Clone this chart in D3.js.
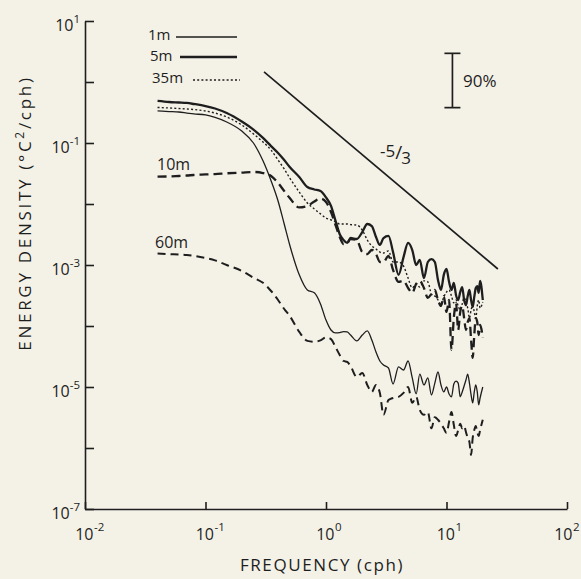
<!DOCTYPE html>
<html>
<head>
<meta charset="utf-8">
<script src="https://cdn.jsdelivr.net/npm/d3@7"></script>
<style>
  body { margin: 0; background: #f4f2e7; }
  svg { display: block; }
  text { font-family: 'Open Sans', 'DejaVu Sans', sans-serif; fill: #1e1e1e; }
</style>
</head>
<body>
<div id="chart"></div>
<script>
// frequency (cph) of each spectral estimate
const freqs = [
  0.04, 0.05, 0.06, 0.07, 0.08, 0.1, 0.12, 0.15,
  0.2, 0.25, 0.3, 0.35, 0.4, 0.45, 0.5,
  0.6, 0.7, 0.8, 0.9,
  1.0, 1.1, 1.2, 1.3, 1.4, 1.5, 1.6,
  1.8, 2.0, 2.2, 2.4, 2.6, 2.8, 3.0,
  3.3, 3.6,
  4.0, 4.4, 4.8, 5.2, 5.6, 6.0,
  6.5, 7, 7.5, 8, 8.5, 9, 9.5, 10, 10.5, 11, 11.5, 12, 12.5,
  13, 13.5, 14, 14.5, 15, 15.5, 16, 16.5, 17, 17.5, 18, 18.5, 19,
  20
]

// energy density (degC^2/cph) for each depth
const energy1m = [
  0.335, 0.328, 0.322, 0.31, 0.30, 0.288, 0.262, 0.221,
  0.157, 0.10, 0.051, 0.024, 0.0112, 4.7e-3, 2.13e-3,
  6.9e-4, 3.9e-4, 3.5e-4, 2.3e-4,
  1.25e-4, 8.6e-5, 7.7e-5, 7.8e-5, 8.1e-5, 8.0e-5, 7.1e-5,
  5.7e-5, 7.1e-5, 8.3e-5, 5.9e-5, 3.75e-5, 2.67e-5, 2.3e-5,
  2.05e-5, 1.12e-5,
  2.13e-5, 1.9e-5, 2.67e-5, 1.41e-5, 7.7e-6, 1.63e-5,
  1.08e-5, 1.41e-5, 7.4e-6, 1.16e-5, 1.76e-5, 1.08e-5, 8.3e-6, 1.0e-5, 7.7e-6, 6.9e-6, 1.12e-5, 1.25e-5, 1.16e-5,
  6.9e-6, 8.3e-6, 1.04e-5, 1.3e-5, 1.63e-5, 1.16e-5, 7.4e-6, 5.5e-6, 8.3e-6, 1.08e-5, 8.3e-6, 5.1e-6, 6.6e-6,
  1.0e-5
]

const energy5m = [
  0.489, 0.47, 0.461, 0.453, 0.436, 0.404, 0.368, 0.31,
  0.225, 0.166, 0.121, 0.089, 0.0686, 0.0526, 0.0404,
  0.0277, 0.019, 0.0173, 0.0163,
  0.0128, 9.3e-3, 5.3e-3, 3.2e-3, 2.57e-3, 2.3e-3, 2.77e-3,
  2.67e-3, 3.47e-3, 4.7e-3, 4.35e-3, 2.88e-3, 2.13e-3, 2.77e-3,
  3.0e-3, 1.63e-3,
  6.9e-4, 1.35e-3, 2.3e-3, 1.76e-3, 1.0e-3, 1.21e-3,
  6.1e-4, 1.12e-3, 1.25e-3, 1.12e-3, 5.7e-4, 3.9e-4, 6.9e-4, 8.6e-4, 5.3e-4, 3.9e-4, 5.1e-4, 3.2e-4, 2.67e-4,
  3.6e-4, 4.35e-4, 2.67e-4, 2.2e-4, 3.1e-4, 3.9e-4, 2.67e-4, 2.05e-4, 3.0e-4, 4.2e-4, 4.5e-4, 3.5e-4, 5.5e-4,
  2.67e-4
]

const energy35m = [
  0.382, 0.375, 0.368, 0.361, 0.354, 0.335, 0.31, 0.267,
  0.197, 0.141, 0.104, 0.0767, 0.0526, 0.0375, 0.0267,
  0.0157, 0.0104, 8.3e-3, 6.9e-3,
  5.9e-3, 5.5e-3, 5.1e-3, 4.7e-3, 4.7e-3, 4.7e-3, 4.6e-3,
  4.5e-3, 3.75e-3, 2.57e-3, 2.05e-3, 1.83e-3, 1.63e-3, 1.57e-3,
  1.7e-3, 1.12e-3,
  1.12e-3, 9.6e-4, 6.1e-4, 4.2e-4, 4.9e-4, 4.35e-4,
  5.5e-4, 5.3e-4, 3.35e-4, 3.1e-4, 2.67e-4, 2.2e-4, 3.0e-4, 3.6e-4, 3.9e-4, 3.1e-4, 2.4e-4, 2.67e-4, 2.13e-4,
  1.83e-4, 2.3e-4, 2.9e-4, 2.47e-4, 1.97e-4, 1.35e-4, 1.83e-4, 2.2e-4, 1.7e-4, 1.35e-4, 2.13e-4, 2.67e-4, 1.97e-4,
  2.47e-4
]

const energy10m = [
  0.0281, 0.0283, 0.0288, 0.0293, 0.0299, 0.0305, 0.031, 0.0319,
  0.0328, 0.0335, 0.0322, 0.0288, 0.0221, 0.0163, 0.0125,
  8.8e-3, 9.3e-3, 0.011, 0.0123,
  0.0108, 7.4e-3, 4.5e-3, 2.88e-3, 2.2e-3, 2.3e-3, 2.67e-3,
  2.57e-3, 1.63e-3, 1.51e-3, 1.76e-3, 1.51e-3, 1.12e-3, 1.12e-3,
  1.41e-3, 8.3e-4,
  5.3e-4, 5.5e-4, 4.2e-4, 3.5e-4, 4.9e-4, 5.5e-4,
  4.2e-4, 2.9e-4, 3.35e-4, 3.9e-4, 2.67e-4, 2.13e-4, 3.1e-4, 1.7e-4, 2.67e-4, 4.05e-5, 1.35e-4, 2.4e-4, 8.6e-5,
  1.7e-4, 2.13e-4, 1.35e-4, 8.6e-5, 1.16e-4, 1.35e-4, 5.9e-5, 3.0e-5, 7.1e-5, 1.35e-4, 1.16e-4, 7.1e-5, 1.04e-4,
  6.4e-5
]

const energy60m = [
  1.55e-3, 1.51e-3, 1.49e-3, 1.46e-3, 1.41e-3, 1.3e-3, 1.19e-3, 1.0e-3,
  8.0e-4, 6.2e-4, 5.1e-4, 3.75e-4, 2.67e-4, 1.9e-4, 1.46e-4,
  8.0e-5, 5.7e-5, 5.5e-5, 5.8e-5,
  6.5e-5, 6.1e-5, 4.5e-5, 3.35e-5, 2.67e-5, 2.57e-5, 2.2e-5,
  1.46e-5, 1.7e-5, 1.08e-5, 8.3e-6, 1.08e-5, 8.0e-6, 3.5e-6,
  6.1e-6, 6.6e-6,
  6.9e-6, 8.0e-6, 1.0e-5, 5.5e-6, 6.9e-6, 4.2e-6,
  3.5e-6, 3.9e-6, 2.1e-6, 3.2e-6, 2.9e-6, 2.5e-6, 2.1e-6, 1.76e-6, 2.67e-6, 3.9e-6, 2.4e-6, 1.57e-6, 1.97e-6,
  2.5e-6, 2.1e-6, 2.3e-6, 1.83e-6, 1.46e-6, 1.25e-6, 7.7e-7, 1.46e-6, 1.97e-6, 2.3e-6, 1.83e-6, 1.57e-6, 1.97e-6,
  2.9e-6
]

// -5/3 reference slope, and the 90% confidence bar
const slopeFreqs = [0.306, 26.7]
const slopeEnergy = [1.47, 8.6e-4]
const ciFreq = 11.2
const ciEnergy = [0.38, 2.95]

const xTickValues = [1e-2, 1e-1, 1, 1e1, 1e2]
const yTickValues = [1e1, 1, 1e-1, 1e-2, 1e-3, 1e-4, 1e-5, 1e-6, 1e-7]
const xLabelExps = [-2, -1, 0, 1, 2]
const yLabelExps = [1, -1, -3, -5, -7]

const ink = '#1e1e1e'
const width = 581
const height = 579
const margin = { top: 21, left: 85, right: 14, bottom: 70 }

const svg = d3
  .select('#chart')
  .append('svg')
  .attr('width', width)
  .attr('height', height)

const xPositionScale = d3
  .scaleLog()
  .domain([1e-2, 1e2])
  .range([margin.left, width - margin.right])
const yPositionScale = d3
  .scaleLog()
  .domain([1e-7, 1e1])
  .range([height - margin.bottom, margin.top])

const line = d3
  .line()
  .x(d => xPositionScale(d[0]))
  .y(d => yPositionScale(d[1]))
  .curve(d3.curveMonotoneX)

const series = [
  { key: '1m', values: energy1m, width: 1.3, dash: null },
  { key: '5m', values: energy5m, width: 2.3, dash: null },
  { key: '35m', values: energy35m, width: 1.4, dash: '2,2.2' },
  { key: '10m', values: energy10m, width: 2.3, dash: '9,5' },
  { key: '60m', values: energy60m, width: 2, dash: '8,5' }
]

// axes
const xAxis = d3
  .axisBottom(xPositionScale)
  .tickValues(xTickValues)
  .tickSizeInner(-7)
  .tickSizeOuter(0)
  .tickFormat('')
svg
  .append('g')
  .attr('class', 'axis x-axis')
  .attr('transform', 'translate(0,' + (height - margin.bottom) + ')')
  .call(xAxis)

const yAxis = d3
  .axisLeft(yPositionScale)
  .tickValues(yTickValues)
  .tickSizeInner(-9)
  .tickSizeOuter(0)
  .tickFormat('')
svg
  .append('g')
  .attr('class', 'axis y-axis')
  .attr('transform', 'translate(' + margin.left + ',0)')
  .call(yAxis)

svg
  .selectAll('.axis .domain, .axis .tick line')
  .attr('stroke', ink)
  .attr('stroke-width', 1.6)

// tick labels with superscript exponents
svg
  .selectAll('.y-label')
  .data(yLabelExps)
  .enter()
  .append('text')
  .attr('class', 'y-label')
  .attr('x', margin.left - 5)
  .attr('y', d => yPositionScale(Math.pow(10, d)) + 10)
  .attr('text-anchor', 'end')
  .attr('font-size', 16)
  .each(function(d) {
    const t = d3.select(this)
    t.append('tspan').text('10')
    t.append('tspan')
      .attr('dy', -8)
      .attr('font-size', 11.5)
      .text(d)
  })

// exponent position; the last one is kept inside the page
function expX(d) {
  return Math.min(xPositionScale(Math.pow(10, d)) + 9, width - 8)
}

svg
  .selectAll('.x-label')
  .data(xLabelExps)
  .enter()
  .append('text')
  .attr('class', 'x-label')
  .attr('x', d => expX(d) - 0.5)
  .attr('y', height - margin.bottom + 31)
  .attr('text-anchor', 'end')
  .attr('font-size', 16)
  .text('10')

svg
  .selectAll('.x-exp')
  .data(xLabelExps)
  .enter()
  .append('text')
  .attr('class', 'x-exp')
  .attr('x', d => expX(d))
  .attr('y', height - margin.bottom + 22)
  .attr('font-size', 11.5)
  .text(d => d)

// axis titles
svg
  .append('text')
  .attr('x', 322)
  .attr('y', 571)
  .attr('text-anchor', 'middle')
  .attr('font-size', 17)
  .attr('letter-spacing', 1.6)
  .text('FREQUENCY (cph)')

const yTitle = svg
  .append('text')
  .attr('transform', 'translate(31,213) rotate(-90)')
  .attr('text-anchor', 'middle')
  .attr('font-size', 17)
  .attr('letter-spacing', 2.7)
yTitle.append('tspan').text('ENERGY DENSITY (°C')
yTitle.append('tspan').attr('dy', -7).attr('font-size', 12).text('2')
yTitle.append('tspan').attr('dy', 7).text('/cph)')

// spectra
svg
  .selectAll('.spectrum')
  .data(series)
  .enter()
  .append('path')
  .attr('class', 'spectrum')
  .attr('d', d => line(freqs.map((f, i) => [f, d.values[i]])))
  .attr('fill', 'none')
  .attr('stroke', ink)
  .attr('stroke-width', d => d.width)
  .attr('stroke-dasharray', d => d.dash)
  .attr('stroke-linejoin', 'round')

// -5/3 slope line
svg
  .append('line')
  .attr('x1', xPositionScale(slopeFreqs[0]))
  .attr('y1', yPositionScale(slopeEnergy[0]))
  .attr('x2', xPositionScale(slopeFreqs[1]))
  .attr('y2', yPositionScale(slopeEnergy[1]))
  .attr('stroke', ink)
  .attr('stroke-width', 1.7)

const slopeText = svg
  .append('text')
  .attr('x', 380)
  .attr('y', 157)
  .attr('font-size', 17)
slopeText.append('tspan').text('-5')
slopeText.append('tspan').attr('dy', 2).attr('font-size', 19).text('/')
slopeText.append('tspan').attr('dy', 5).attr('dx', -1).text('3')

// 90% confidence bar
const ciX = xPositionScale(ciFreq)
svg
  .append('line')
  .attr('x1', ciX)
  .attr('x2', ciX)
  .attr('y1', yPositionScale(ciEnergy[0]))
  .attr('y2', yPositionScale(ciEnergy[1]))
  .attr('stroke', ink)
  .attr('stroke-width', 1.7)
svg
  .selectAll('.ci-cap')
  .data(ciEnergy)
  .enter()
  .append('line')
  .attr('class', 'ci-cap')
  .attr('x1', ciX - 8)
  .attr('x2', ciX + 8)
  .attr('y1', d => yPositionScale(d))
  .attr('y2', d => yPositionScale(d))
  .attr('stroke', ink)
  .attr('stroke-width', 1.7)
svg
  .append('text')
  .attr('x', 463)
  .attr('y', 87)
  .attr('font-size', 17)
  .text('90%')

// legend
const legend = [
  { key: '1m', x: 148, y: 40, x1: 176, x2: 237, ly: 37 },
  { key: '5m', x: 150, y: 61, x1: 180, x2: 237, ly: 57 },
  { key: '35m', x: 152, y: 83, x1: 193, x2: 240, ly: 80 }
]
legend.forEach(l => {
  const s = series.find(d => d.key === l.key)
  svg
    .append('text')
    .attr('x', l.x)
    .attr('y', l.y)
    .attr('font-size', 15)
    .text(l.key)
  svg
    .append('line')
    .attr('x1', l.x1)
    .attr('x2', l.x2)
    .attr('y1', l.ly)
    .attr('y2', l.ly)
    .attr('stroke', ink)
    .attr('stroke-width', s.width)
    .attr('stroke-dasharray', s.dash)
})

// direct labels for the dashed curves
svg
  .append('text')
  .attr('x', 157)
  .attr('y', 170)
  .attr('font-size', 16)
  .text('10m')
svg
  .append('text')
  .attr('x', 155)
  .attr('y', 248)
  .attr('font-size', 16)
  .text('60m')
</script>
</body>
</html>
